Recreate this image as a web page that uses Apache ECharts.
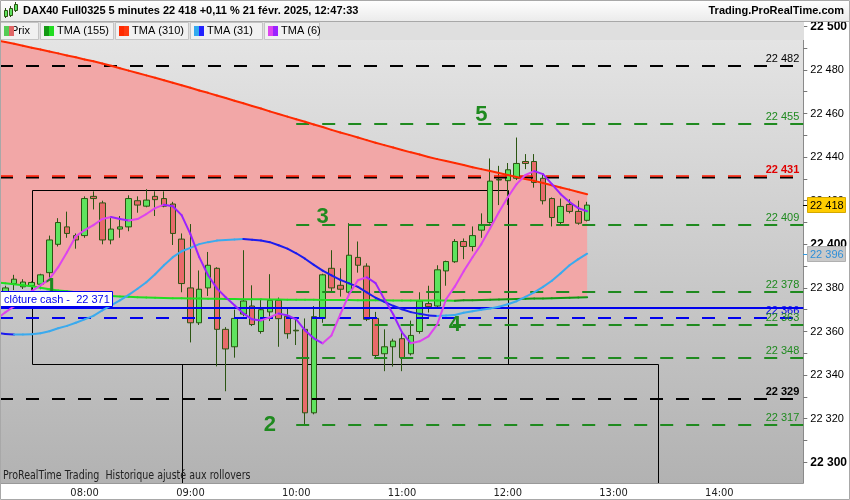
<!DOCTYPE html>
<html><head><meta charset="utf-8">
<script src="https://cdn.jsdelivr.net/npm/echarts@6/dist/echarts.min.js"></script>
<style>html,body{margin:0;padding:0;background:#fff}#c{width:850px;height:500px}</style>
</head><body><div id="c"></div>
<script>
// ---------------- DATA ----------------
const candleTimes = ['07:15','07:20','07:25','07:30','07:35','07:40','07:45','07:50','07:55',
 '08:00','08:05','08:10','08:15','08:20','08:25','08:30','08:35','08:40','08:45','08:50','08:55',
 '09:00','09:05','09:10','09:15','09:20','09:25','09:30','09:35','09:40','09:45','09:50','09:55',
 '10:00','10:05','10:10','10:15','10:20','10:25','10:30','10:35','10:40','10:45','10:50','10:55',
 '11:00','11:05','11:10','11:15','11:20','11:25','11:30','11:35','11:40','11:45','11:50','11:55',
 '12:00','12:05','12:10','12:15','12:20','12:25','12:30','12:35','12:40','12:45'];
const openP = [22378,22382,22380.5,22381,22381.7,22387,22400,22408,22404,22404,
 22422,22419,22402,22407,22408,22420,22417.5,22422,22421,22418.5,
 22402.4,22380,22364,22380,22389,22361,22353,22368,22371.7,22360,
 22369,22374.3,22367,22360.6,22361,22322.7,22366,22389,22381.2,22378,
 22394,22390,22366,22349.8,22353,22356.7,22349.8,22360,22372.8,22371.7,
 22387.8,22392,22401.3,22399,22406.5,22410,22429.5,22429.2,22430.3,22438,
 22438,22430.3,22421,22410,22418.3,22415.1,22411];
const closeP = [22380,22384,22382.7,22382.5,22386,22402,22410,22405,22402,22421,
 22421,22402,22407,22408,22421,22418,22420.3,22420.5,22417.5,22405,
 22382,22364,22379.4,22390.4,22361,22352,22366,22374,22363.2,22370,
 22374.3,22365.9,22359,22360.3,22322.7,22366.8,22386,22380,22379.4,22395,
 22390.4,22365.6,22349,22353,22355.6,22348,22358.2,22374,22371.4,22388.3,
 22392.1,22401.3,22399,22404,22409,22429,22429.8,22434.2,22437.1,22437.1,
 22428.4,22420,22412.3,22417.4,22415.1,22409.7,22418];
const lowP = [22377,22379,22379.5,22378,22379.4,22384,22399,22403,22398,22403,
 22416,22400,22400,22403,22406,22414.5,22417,22413,22417,22399.7,
 22378,22355,22363,22376.3,22344,22332.6,22348,22367,22362.5,22359,
 22364.8,22353,22356.7,22353.8,22317.3,22322,22364,22378,22376,22377,
 22387,22364.8,22348,22341.8,22343.9,22341.8,22349,22359,22368.7,22371,
 22381,22391.5,22393.2,22396.8,22403,22409.5,22418,22418,22429.5,22434.5,
 22426,22418.3,22408.2,22408.5,22414.2,22409,22410.5];
const highP = [22381,22386,22384,22383,22386.5,22404,22412,22415,22405,22422,
 22424.3,22420,22413,22413,22422.5,22422,22425.3,22424.3,22424.3,22419.5,
 22405,22409.3,22388,22396.5,22389.5,22362,22370,22397.3,22381.2,22374.8,
 22386.3,22375.6,22371,22366.4,22366,22371.7,22386.5,22397.3,22389,22409.7,
 22401.3,22391.3,22369,22361,22356.7,22359.8,22365,22378,22381,22390.4,
 22392.5,22402.4,22402.7,22408.2,22414.2,22439.4,22436,22437.3,22449,22441.4,
 22441.4,22432.2,22421.5,22421,22420.7,22420,22419.5];

const maTimes = ['07:10'].concat(candleTimes);
const tma6 = [22365.6,22368.8,22371.6,22374.8,22378.5,22381.2,22384.0,22389.5,22396.4,22403.7,
 22406.5,22408.8,22411.6,22412.5,22411.6,22410.9,22411.6,22413.9,22416.6,22418.2,
 22417.5,22413.4,22404.7,22394.1,22385.8,22379.8,22375.7,22372.0,22368.3,22365.6,
 22365.1,22366.5,22368.3,22367.4,22365.6,22360.5,22356.9,22354.6,22358.2,22367.9,
 22377.1,22383.5,22384.9,22382.2,22374.8,22367.9,22359.6,22354.6,22355.5,22357.8,
 22363.3,22374.8,22380.7,22387.7,22394.1,22400.1,22407.4,22414.8,22421.6,22427.6,
 22431.8,22433.6,22432.2,22427.6,22423.0,22419.4,22416.6,22415.2];
const tma31 = [22359.4,22358.9,22358.6,22358.65,22358.7,22359.2,22360.1,22361.5,22362.6,22364.0,
 22365.6,22367.2,22369.7,22372.0,22374.3,22376.8,22379.6,22382.6,22386.3,22390.4,
 22394.1,22396.8,22398.4,22400.1,22401.0,22401.7,22402.0,22402.2,22402.4,22402.1,
 22401.8,22401.0,22399.6,22398.0,22395.9,22393.4,22390.6,22387.9,22385.8,22383.7,
 22382.1,22380.5,22378.0,22375.5,22373.6,22371.8,22370.2,22368.9,22368.1,22367.4,
 22367.1,22367.3,22367.6,22368.6,22369.3,22370.0,22370.6,22371.4,22372.5,22373.9,
 22375.9,22378.0,22380.5,22383.3,22386.7,22390.4,22393.2,22395.7];
const tma155 = [22382.6,22382.1,22381.7,22381.2,22380.8,22380.1,22379.4,22378.8,22378.5,22378.0,
 22377.6,22377.1,22376.6,22376.3,22376.1,22375.9,22375.7,22375.6,
 22375.5,22375.4,22375.3,22375.25,22375.2,22375.1,22375.05,22375.0,22374.95,22374.9,
 22374.85,22374.8,22374.75,22374.7,22374.65,22374.6,22374.58,
 22374.55,22374.52,22374.5,22374.47,22374.44,22374.41,22374.38,22374.35,22374.32,22374.3,
 22374.28,22374.26,22374.24,22374.22,22374.2,22374.19,22374.18,22374.17,
 22374.3,22374.4,22374.5,22374.6,22374.7,22374.8,22374.9,22375.0,22375.1,22375.2,
 22375.3,22375.4,22375.5,22375.6,22375.7];
const tma310 = [22493.6,22492.8,22492.0,22491.1,22490.2,22489.35,22488.5,22487.6,22486.6,22485.8,
 22484.8,22484.0,22483.0,22481.9,22480.8,22479.7,22478.6,22477.5,22476.4,22475.3,
 22474.1,22473.0,22471.8,22470.6,22469.5,22468.3,22467.1,22465.9,22464.7,22463.5,
 22462.3,22461.0,22459.8,22458.6,22457.4,22456.2,22455.0,22453.8,22452.5,22451.3,
 22450.2,22449.0,22447.8,22446.6,22445.5,22444.4,22443.3,22442.2,22441.2,22440.1,
 22439.1,22438.2,22437.3,22436.4,22435.4,22434.5,22433.6,22432.7,22431.8,22430.9,
 22430.0,22429.1,22428.1,22427.1,22426.1,22425.1,22424.0,22423.0];

const levelValues = [22482, 22455, 22431, 22409, 22378, 22371, 22366, 22363, 22348, 22329, 22317];
const levelStart  = [null, '10:00', null, '10:00', '10:00', null, null, '10:15', '10:00', null, '10:00'];
const cashLabel = 'clôture cash -  22 371';

const waveLabels = ['1', '2', '3', '4', '5'];
const waveTimes  = ['07:41', '09:45', '10:15', '11:30', '11:45'];
const waveValues = [22380.3, 22317.3, 22412.5, 22363.1, 22459.3];

const zoneStart = ['07:30', '08:55'];
const zoneEnd   = ['12:00', '13:25'];
const zoneLow   = [22345, 22285];
const zoneHigh  = [22425, 22345];

const xTickTimes = ['08:00','09:00','10:00','11:00','12:00','13:00','14:00'];
const yTickLabels = [22300,22320,22340,22360,22380,22400,22420,22440,22460,22480,22500];
const yMinorTicks = [22300,22310,22320,22330,22340,22350,22360,22370,22380,22390,22400,22410,22420,22430,22440,22450,22460,22470,22480,22490,22500];

const titleText = 'DAX40 Full0325 5 minutes 22 418 +0,11 % 21 févr. 2025, 12:47:33';
const siteText = 'Trading.ProRealTime.com';
const footText = 'ProRealTime Trading  Historique ajusté aux rollovers';
const legendNames = ['Prix', 'TMA (155)', 'TMA (310)', 'TMA (31)', 'TMA (6)'];

// ---------------- HELPERS ----------------
function tm(s) { const p = s.split(':'); return (+p[0]) * 60 + (+p[1]); }
function fmtNum(v) { const s = String(Math.round(v)); return s.slice(0, s.length - 3) + ' ' + s.slice(-3); }
function fmtTime(m) { const h = Math.floor(m / 60), mi = Math.round(m % 60); return (h < 10 ? '0' : '') + h + ':' + (mi < 10 ? '0' : '') + mi; }

const X_MIN = 432, X_MAX = 887.6, Y_MIN = 22290.5, Y_MAX = 22502;
const FONT = '"Liberation Sans", Arial, sans-serif';
const NARROW = '"Liberation Sans Narrow", "DejaVu Sans Condensed", sans-serif';

const maT = maTimes.map(tm);

function segSeries(vals, up, down, z) {
  const data = [];
  for (let i = 0; i < vals.length - 1; i++) data.push([maT[i], vals[i], maT[i + 1], vals[i + 1]]);
  return {
    type: 'custom', data, encode: { x: [0, 2], y: [1, 3] }, clip: true, z, silent: true,
    renderItem: (p, api) => {
      const a = api.coord([api.value(0), api.value(1)]);
      const b = api.coord([api.value(2), api.value(3)]);
      return { type: 'line', shape: { x1: a[0], y1: a[1], x2: b[0], y2: b[1] },
        style: { stroke: api.value(3) >= api.value(1) ? up : down, lineWidth: 2, lineCap: 'round' } };
    }
  };
}

// level styles (by index)
const levelStyle = ['black', 'green', 'redblack', 'green', 'green', 'blue', 'bluedash', 'green', 'green', 'blackbold', 'green'];
const GREEN = '#1f8a1f';

const levelSeries = {
  type: 'custom', clip: true, z: 4, silent: true,
  data: levelValues.map((v, i) => [levelStart[i] ? tm(levelStart[i]) : X_MIN, v]),
  encode: { x: 0, y: 1 },
  renderItem: (p, api) => {
    const i = p.dataIndex, v = api.value(1);
    const a = api.coord([api.value(0), v]);
    const b = api.coord([X_MAX, v]);
    const y = Math.round(a[1]);
    const kind = levelStyle[i];
    const ch = [];
    const dash = [13, 13];
    const lbl = fmtNum(v);
    const txt = (fill, weight) => ({ type: 'text', style: {
      text: lbl, x: b[0] - 4, y: y - 2, align: 'right', verticalAlign: 'bottom',
      fill, font: (weight || 'normal') + ' 11px ' + FONT } });
    if (kind === 'black' || kind === 'blackbold') {
      ch.push({ type: 'line', shape: { x1: a[0], y1: y, x2: b[0], y2: y }, style: { stroke: '#000', lineWidth: 2, lineDash: dash } });
      ch.push(txt('#000', kind === 'blackbold' ? 'bold' : 'normal'));
    } else if (kind === 'green') {
      ch.push({ type: 'line', shape: { x1: a[0], y1: y, x2: b[0], y2: y }, style: { stroke: GREEN, lineWidth: 2, lineDash: dash } });
      ch.push(txt(GREEN));
    } else if (kind === 'redblack') {
      ch.push({ type: 'line', shape: { x1: a[0], y1: y + 0.5, x2: b[0], y2: y + 0.5 }, style: { stroke: '#000', lineWidth: 2, lineDash: dash } });
      ch.push({ type: 'line', shape: { x1: a[0], y1: y - 1, x2: b[0], y2: y - 1 }, style: { stroke: '#ff1a00', lineWidth: 1.5, lineDash: dash } });
      const t = txt('#e00000', 'bold');
      t.style.textShadowColor = '#000'; t.style.textShadowOffsetX = 1; t.style.textShadowOffsetY = 0; t.style.textShadowBlur = 0;
      ch.push(t);
    } else if (kind === 'blue') {
      ch.push({ type: 'line', shape: { x1: a[0], y1: y, x2: b[0], y2: y }, style: { stroke: '#0000ee', lineWidth: 2 } });
    } else if (kind === 'bluedash') {
      ch.push({ type: 'line', shape: { x1: a[0], y1: y, x2: b[0], y2: y }, style: { stroke: '#0000ee', lineWidth: 2, lineDash: dash } });
      ch.push(txt('#0000ee'));
    }
    return { type: 'group', children: ch };
  }
};

const cashSeries = {
  type: 'custom', clip: false, z: 10, silent: true,
  data: [[X_MIN, levelValues[5]]], encode: { x: 0, y: 1 },
  renderItem: (p, api) => {
    const a = api.coord([api.value(0), api.value(1)]);
    const y = Math.round(a[1]);
    return { type: 'group', children: [
      { type: 'rect', shape: { x: Math.round(a[0]) + 0.5, y: y - 16.5, width: 112, height: 15 }, style: { fill: '#fff', stroke: '#0000ee', lineWidth: 1 } },
      { type: 'text', style: { text: cashLabel, x: a[0] + 4, y: y - 8.5, align: 'left', verticalAlign: 'middle', fill: '#0000ee', font: '11px ' + FONT } }
    ] };
  }
};

const zoneSeries = {
  type: 'custom', clip: true, z: 2, silent: true,
  data: zoneStart.map((s, i) => [tm(s), tm(zoneEnd[i]), zoneLow[i], zoneHigh[i]]),
  encode: { x: [0, 1], y: [2, 3] },
  renderItem: (p, api) => {
    const a = api.coord([api.value(0), api.value(3)]);
    const b = api.coord([api.value(1), api.value(2)]);
    const x0 = Math.round(a[0]) + 0.5, y0 = Math.round(a[1]) + 0.5, x1 = Math.round(b[0]) + 0.5, y1 = Math.round(b[1]) + 0.5;
    return { type: 'rect', shape: { x: x0, y: y0, width: x1 - x0, height: y1 - y0 }, style: { fill: 'none', stroke: '#000', lineWidth: 1 } };
  }
};

const cloudSeries = {
  type: 'custom', clip: true, z: 1, silent: true,
  data: [[maT[0], tma310[0]]], encode: { x: 0, y: 1 },
  renderItem: (p, api) => {
    const pts = [];
    for (let i = 0; i < maT.length; i++) pts.push(api.coord([maT[i], tma310[i]]));
    for (let i = maT.length - 1; i >= 0; i--) pts.push(api.coord([maT[i], tma155[i]]));
    return { type: 'polygon', shape: { points: pts }, style: { fill: '#f2a7a7' } };
  }
};

const waveSeries = {
  type: 'custom', clip: false, z: 9, silent: true,
  data: waveLabels.map((l, i) => [tm(waveTimes[i]), waveValues[i]]), encode: { x: 0, y: 1 },
  renderItem: (p, api) => {
    const a = api.coord([api.value(0), api.value(1)]);
    return { type: 'text', style: { text: waveLabels[p.dataIndex], x: a[0], y: a[1], align: 'center', verticalAlign: 'middle', fill: GREEN, font: 'bold 22px ' + FONT } };
  }
};

const lastIdx = candleTimes.length - 1;
const tagSeries = {
  type: 'custom', clip: false, z: 11, silent: true,
  data: [[tm(candleTimes[lastIdx]), closeP[lastIdx]], [tm(candleTimes[lastIdx]), tma31[tma31.length - 1]]],
  encode: { x: 0, y: 1 },
  renderItem: (p, api) => {
    const v = api.value(1);
    const a = api.coord([X_MAX, v]);
    const x = Math.round(a[0]), y = Math.round(a[1]);
    const first = p.dataIndex === 0;
    return { type: 'group', children: [
      { type: 'line', shape: { x1: x, y1: y + 0.5, x2: x + 5, y2: y + 0.5 }, style: { stroke: first ? '#000' : '#3399dd', lineWidth: 1 } },
      { type: 'rect', shape: { x: x + 4.5, y: y - 7.5, width: 38, height: 15 }, style: { fill: first ? '#ffcc00' : '#c9c9c9', stroke: first ? '#d4a800' : '#b0b0b0', lineWidth: 1 } },
      { type: 'text', style: { text: fmtNum(v), x: x + 7, y: y + 0.5, align: 'left', verticalAlign: 'middle', fill: first ? '#000' : '#2f8fd8', font: '11px ' + FONT } }
    ] };
  }
};

const candleSeries = {
  type: 'candlestick', z: 3, silent: true,
  data: candleTimes.map((t, i) => [tm(t), openP[i], closeP[i], lowP[i], highP[i]]),
  encode: { x: 0, y: [1, 2, 3, 4] },
  barWidth: 6,
  itemStyle: { color: '#5ee35e', color0: '#e86b6b', borderColor: '#2b5512', borderColor0: '#2b5512', borderWidth: 1 }
};

// ---------------- GRAPHIC (header / legend) ----------------
const graphic = [];
graphic.push({ type: 'rect', z: 100, shape: { x: 0, y: 0, width: 850, height: 21 },
  style: { fill: { type: 'linear', x: 0, y: 0, x2: 0, y2: 1, colorStops: [{ offset: 0, color: '#ffffff' }, { offset: 1, color: '#ebebeb' }] } } });
graphic.push({ type: 'line', z: 101, shape: { x1: 0, y1: 21.5, x2: 850, y2: 21.5 }, style: { stroke: '#a8a8a8', lineWidth: 1 } });
// icon
[[4, 10, 3, 6, 8, 18], [9, 8, 3, 7, 6, 17], [14, 4, 3, 6, 2, 12]].forEach(c => {
  graphic.push({ type: 'line', z: 102, shape: { x1: c[0] + 1.5, y1: c[4], x2: c[0] + 1.5, y2: c[5] }, style: { stroke: '#2b5512', lineWidth: 1 } });
  graphic.push({ type: 'rect', z: 103, shape: { x: c[0] + 0.5, y: c[1] + 0.5, width: c[2], height: c[3] }, style: { fill: '#5ee35e', stroke: '#2b5512', lineWidth: 1 } });
});
graphic.push({ type: 'text', z: 102, x: 23, y: 11, style: { text: titleText, font: 'bold 11px ' + FONT, fill: '#000', verticalAlign: 'middle' } });
graphic.push({ type: 'text', z: 102, x: 844, y: 11, style: { text: siteText, font: 'bold 11px ' + FONT, fill: '#000', align: 'right', verticalAlign: 'middle' } });
// legend row
graphic.push({ type: 'rect', z: 100, shape: { x: 0, y: 22, width: 804, height: 18 }, style: { fill: '#dfdfdf' } });
const boxes = [[0, 39], [40, 114], [115, 189], [190, 263], [264, 320]];
const swatches = [['#55cc55', '#e06565'], ['#139913', '#22dd22'], ['#ff2a00', '#ff3a10'], ['#33aaee', '#2222ff'], ['#dd44ee', '#9a22ff']];
boxes.forEach((b, i) => {
  graphic.push({ type: 'rect', z: 101, shape: { x: b[0] + 0.5, y: 22.5, width: b[1] - b[0] - 1, height: 17 }, style: { fill: '#f1f1f1', stroke: '#c4c4c4', lineWidth: 1 } });
  graphic.push({ type: 'text', z: 102, x: i === 0 ? 11 : b[0] + 17, y: 31, style: { text: legendNames[i], font: '11px ' + FONT, fill: '#000', verticalAlign: 'middle' } });
  graphic.push({ type: 'rect', z: 103, shape: { x: b[0] + 4, y: 26, width: 5, height: 10 }, style: { fill: swatches[i][0] } });
  graphic.push({ type: 'rect', z: 103, shape: { x: b[0] + 9, y: 26, width: 5, height: 10 }, style: { fill: swatches[i][1] } });
});
graphic.push({ type: 'text', z: 102, x: 3, y: 476, scaleX: 0.88, style: { text: footText, font: '12px ' + NARROW, fill: '#222', verticalAlign: 'middle' } });
graphic.push({ type: 'rect', z: 104, shape: { x: 0.5, y: 0.5, width: 849, height: 499 }, style: { fill: 'none', stroke: '#a8a8a8', lineWidth: 1 } });

// ---------------- OPTION ----------------
const option = {
  animation: false,
  backgroundColor: '#ffffff',
  grid: { left: 0, right: 46, top: 22, bottom: 17, show: true, borderWidth: 0,
    backgroundColor: { type: 'linear', x: 0, y: 0, x2: 0, y2: 1, colorStops: [{ offset: 0, color: '#e6e6e6' }, { offset: 1, color: '#b2b2b2' }] } },
  xAxis: {
    type: 'value', min: X_MIN, max: X_MAX, splitLine: { show: false },
    axisLine: { show: true, lineStyle: { color: '#999' } }, axisTick: { show: false },
    axisLabel: { customValues: xTickTimes.map(tm), formatter: v => fmtTime(v), margin: 5, fontSize: 11, color: '#222', fontFamily: NARROW }
  },
  yAxis: {
    type: 'value', position: 'right', min: Y_MIN, max: Y_MAX, scale: true, splitLine: { show: false },
    axisLine: { show: true, lineStyle: { color: '#8a8a8a' } },
    axisTick: { show: true, customValues: yMinorTicks, length: 4, lineStyle: { color: '#777' } },
    axisLabel: {
      customValues: yTickLabels, margin: 7, fontSize: 11, color: '#000', fontFamily: FONT,
      formatter: v => (v % 100 === 0 ? '{b|' + fmtNum(v) + '}' : fmtNum(v)),
      rich: { b: { fontWeight: 'bold', fontSize: 12, color: '#000', fontFamily: FONT } }
    }
  },
  series: [
    cloudSeries,
    zoneSeries,
    candleSeries,
    levelSeries,
    segSeries(tma310, '#ff2a00', '#ff2a00', 5),
    segSeries(tma155, '#139913', '#22dd22', 5),
    segSeries(tma31, '#3aaaee', '#1c1cee', 6),
    segSeries(tma6, '#dd44ee', '#9a22ff', 7),
    waveSeries,
    cashSeries,
    tagSeries
  ],
  graphic
};
const chart = echarts.init(document.getElementById('c'), null, { renderer: 'canvas' });
chart.setOption(option);
</script>
</body></html>
